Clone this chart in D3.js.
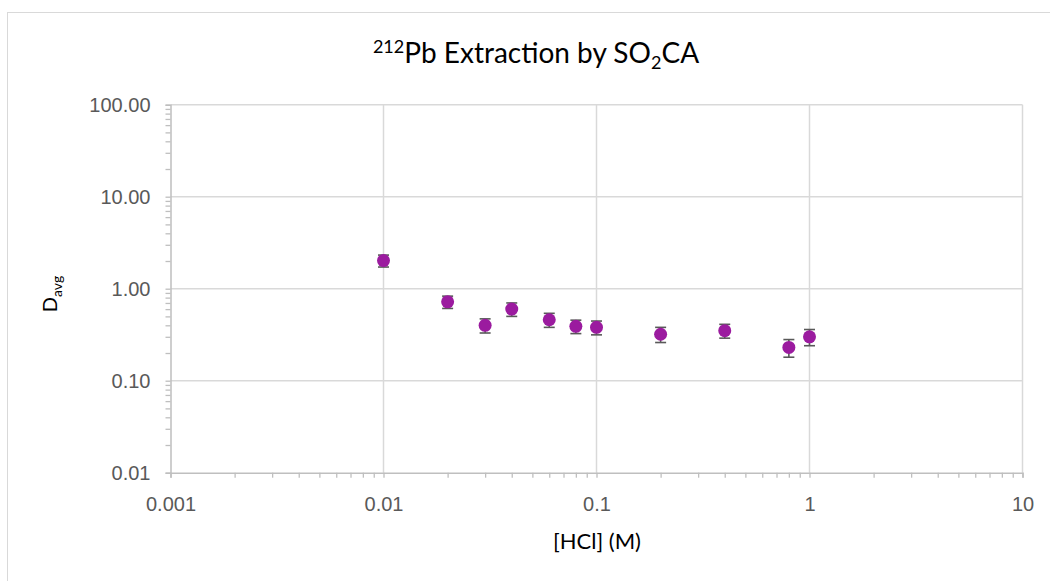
<!DOCTYPE html>
<html>
<head>
<meta charset="utf-8">
<script src="https://cdn.jsdelivr.net/npm/d3@7"></script>
<style>
  body { margin: 0; background: #fff; }
  svg { display: block; }
</style>
</head>
<body>
<div id="chart"></div>
<script>
// Data
var hclConc = [0.01, 0.02, 0.03, 0.04, 0.06, 0.08, 0.1, 0.2, 0.4, 0.8, 1.0];
var dAvg    = [2.02, 0.72, 0.40, 0.60, 0.46, 0.39, 0.38, 0.32, 0.35, 0.23, 0.30];
var dErr    = [0.30, 0.11, 0.07, 0.10, 0.08, 0.065, 0.065, 0.06, 0.06, 0.05, 0.06];
var xTickLabels = ["0.001", "0.01", "0.1", "1", "10"];
var yTickLabels = ["0.01", "0.10", "1.00", "10.00", "100.00"];

var w = 1050;
var h = 581;
var plotLeft = 170.5, plotRight = 1022.5, plotTop = 104.7, plotBottom = 472.7;

var svg = d3.select("#chart")
    .append("svg")
    .attr("width", w)
    .attr("height", h);

// Chart area border
svg.append("rect")
    .attr("x", 7.5).attr("y", 12.5)
    .attr("width", 1070).attr("height", 600)
    .attr("fill", "#fff")
    .attr("stroke", "#d9d9d9");

// Scales
var xScale = d3.scaleLog().domain([0.001, 10]).range([plotLeft, plotRight]);
var yScale = d3.scaleLog().domain([0.01, 100]).range([plotBottom, plotTop]);

var xMajor = xTickLabels.map(Number);
var yMajor = yTickLabels.map(Number);

// Gridlines
svg.append("g").selectAll("line")
    .data(xMajor.slice(1))
    .enter().append("line")
    .attr("x1", function (d) { return xScale(d); })
    .attr("x2", function (d) { return xScale(d); })
    .attr("y1", plotTop).attr("y2", plotBottom)
    .attr("stroke", "#d9d9d9").attr("stroke-width", 1.5);

svg.append("g").selectAll("line")
    .data(yMajor.slice(1))
    .enter().append("line")
    .attr("x1", plotLeft).attr("x2", plotRight)
    .attr("y1", function (d) { return yScale(d); })
    .attr("y2", function (d) { return yScale(d); })
    .attr("stroke", "#d9d9d9").attr("stroke-width", 1.5);

// Axes: minor ticks everywhere, labels only on decades
function decadeLabel(majors, labels) {
    return function (d) {
        var i = majors.findIndex(function (m) { return Math.abs(m - d) / m < 1e-6; });
        return i >= 0 ? labels[i] : "";
    };
}

var xAxis = d3.axisBottom(xScale)
    .tickValues(xScale.ticks())
    .tickSize(5)
    .tickPadding(19)
    .tickFormat(decadeLabel(xMajor, xTickLabels));

var yAxis = d3.axisLeft(yScale)
    .tickValues(yScale.ticks())
    .tickSize(5)
    .tickPadding(15)
    .tickFormat(decadeLabel(yMajor, yTickLabels));

var gx = svg.append("g")
    .attr("transform", "translate(0," + plotBottom + ")")
    .call(xAxis);
var gy = svg.append("g")
    .attr("transform", "translate(" + plotLeft + ",0)")
    .call(yAxis);

[gx, gy].forEach(function (g) {
    g.select(".domain").attr("stroke", "#bfbfbf").attr("stroke-width", 1.5);
    g.selectAll(".tick line").attr("stroke", "#bfbfbf").attr("stroke-width", 1.3);
    g.selectAll(".tick text")
        .attr("fill", "#595959")
        .style("font-family", "'Liberation Sans', Arial, sans-serif")
        .style("font-size", "20px");
});

// Error bars
var capW = 5.5;
var eb = svg.append("g").attr("stroke", "#595959").attr("stroke-width", 1.6);
hclConc.forEach(function (x, i) {
    var cx = xScale(x);
    var yHi = yScale(dAvg[i] + dErr[i]);
    var yLo = yScale(dAvg[i] - dErr[i]);
    eb.append("line").attr("x1", cx).attr("x2", cx).attr("y1", yHi).attr("y2", yLo);
    eb.append("line").attr("x1", cx - capW).attr("x2", cx + capW).attr("y1", yHi).attr("y2", yHi);
    eb.append("line").attr("x1", cx - capW).attr("x2", cx + capW).attr("y1", yLo).attr("y2", yLo);
});

// Markers
svg.append("g").selectAll("circle")
    .data(hclConc)
    .enter().append("circle")
    .attr("cx", function (d) { return xScale(d); })
    .attr("cy", function (d, i) { return yScale(dAvg[i]); })
    .attr("r", 6.5)
    .attr("fill", "#9b1b9f");

// Title
var title = svg.append("text")
    .attr("x", 536).attr("y", 63)
    .attr("text-anchor", "middle")
    .style("font-family", "Lato, 'Open Sans', sans-serif")
    .style("font-size", "28px")
    .attr("fill", "#000");
title.append("tspan").attr("dy", -10).style("font-size", "18px").text("212");
title.append("tspan").attr("dy", 10).text("Pb Extraction by SO");
title.append("tspan").attr("dy", 6).style("font-size", "18px").text("2");
title.append("tspan").attr("dy", -6).text("CA");

// X axis title
svg.append("text")
    .attr("x", 597).attr("y", 549)
    .attr("text-anchor", "middle")
    .style("font-family", "Lato, 'Open Sans', sans-serif")
    .style("font-size", "22px")
    .attr("fill", "#000")
    .text("[HCl] (M)");

// Y axis title
var yl = svg.append("text")
    .attr("transform", "translate(57,294) rotate(-90)")
    .attr("text-anchor", "middle")
    .style("font-family", "Lato, 'Open Sans', sans-serif")
    .style("font-size", "20px")
    .attr("fill", "#000");
yl.append("tspan").text("D");
yl.append("tspan").attr("dy", 5).style("font-size", "14px").text("avg");
</script>
</body>
</html>
